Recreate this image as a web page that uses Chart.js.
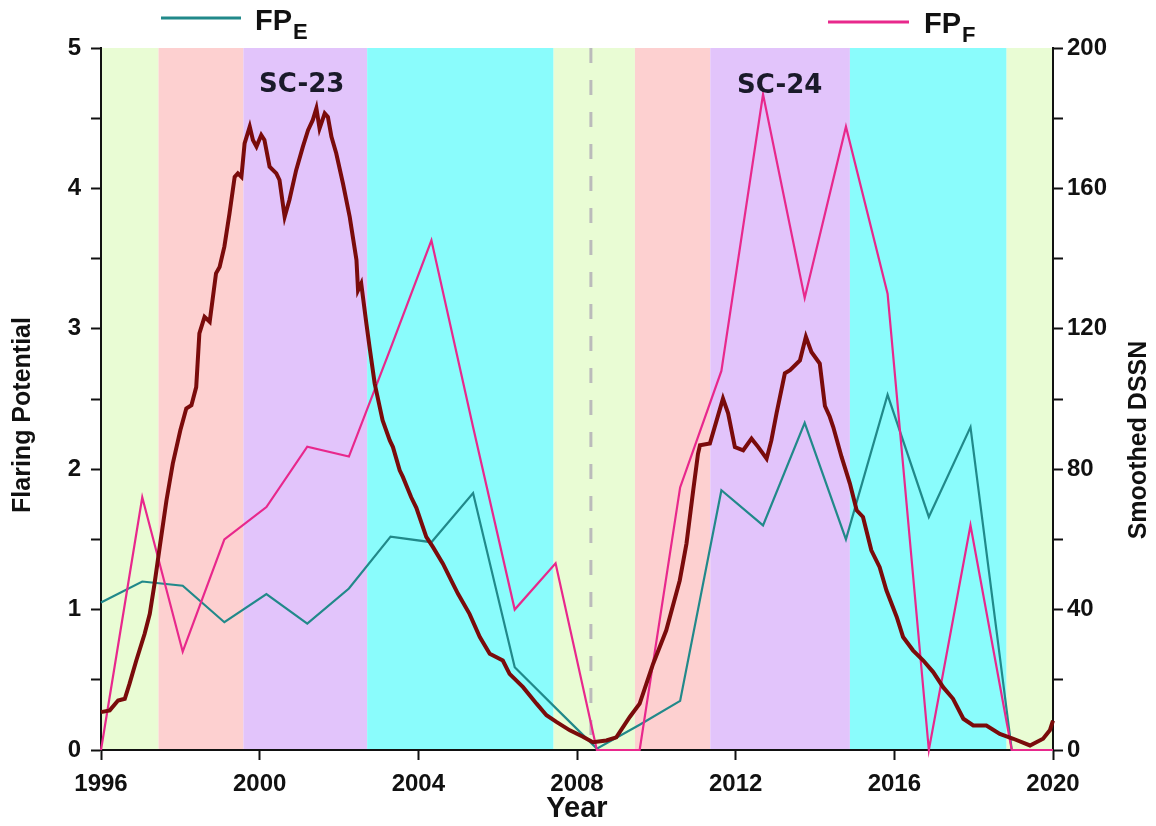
<!DOCTYPE html>
<html>
<head>
<meta charset="utf-8">
<script src="https://cdn.jsdelivr.net/npm/chart.js@4.4.1/dist/chart.umd.min.js"></script>
<style>
    html, body { margin: 0; padding: 0; background: #fff; }
    #wrap { width: 1156px; height: 826px; position: relative; }
</style>
</head>
<body>
<div id="wrap"><canvas id="flareChart"></canvas></div>
<script>
// Flaring potential samples (one per ~1.04 yr)
const fpYears = [1996, 1997.04, 1998.06, 1999.11, 2000.17, 2001.2, 2002.25, 2003.3, 2004.33, 2005.38,
    2006.43, 2007.46, 2008.5, 2009.58, 2010.6, 2011.64, 2012.69, 2013.74, 2014.78, 2015.83,
    2016.87, 2017.92, 2018.96, 2020];
const fpE = [1.05, 1.2, 1.17, 0.91, 1.11, 0.9, 1.15, 1.52, 1.48, 1.83,
    0.59, 0.3, 0.01, 0.18, 0.35, 1.85, 1.6, 2.33, 1.5, 2.53,
    1.66, 2.3, 0, 0];
const fpF = [0, 1.8, 0.7, 1.5, 1.73, 2.16, 2.09, 2.86, 3.63, 2.3,
    1.0, 1.33, 0, 0, 1.87, 2.7, 4.67, 3.22, 4.44, 3.25,
    0, 1.6, 0, 0];

// Smoothed daily sunspot number
const dssnYears = [1996.00, 1996.22, 1996.43, 1996.60, 1996.72, 1996.89, 1997.10, 1997.23, 1997.35, 1997.48,
    1997.65, 1997.81, 1998.00, 1998.15, 1998.28, 1998.40, 1998.48, 1998.61, 1998.74, 1998.90,
    1998.99, 1999.11, 1999.24, 1999.37, 1999.45, 1999.54, 1999.62, 1999.75, 1999.83, 1999.92,
    2000.04, 2000.12, 2000.25, 2000.42, 2000.50, 2000.63, 2000.75, 2000.92, 2001.09, 2001.22,
    2001.34, 2001.43, 2001.51, 2001.64, 2001.72, 2001.81, 2001.93, 2002.10, 2002.27, 2002.44,
    2002.48, 2002.56, 2002.69, 2002.77, 2002.90, 2003.10, 2003.28, 2003.36, 2003.53, 2003.61,
    2003.82, 2003.95, 2004.20, 2004.37, 2004.62, 2004.87, 2005.00, 2005.29, 2005.55, 2005.80,
    2006.13, 2006.30, 2006.64, 2006.98, 2007.23, 2007.48, 2007.82, 2008.15, 2008.40, 2008.74,
    2008.99, 2009.33, 2009.58, 2009.92, 2010.25, 2010.59, 2010.76, 2010.93, 2011.05, 2011.10,
    2011.35, 2011.52, 2011.68, 2011.81, 2011.98, 2012.19, 2012.40, 2012.57, 2012.78, 2012.90,
    2013.03, 2013.24, 2013.37, 2013.62, 2013.77, 2013.91, 2014.12, 2014.25, 2014.37, 2014.46,
    2014.67, 2014.88, 2015.05, 2015.21, 2015.42, 2015.63, 2015.80, 2016.06, 2016.22, 2016.47,
    2016.73, 2016.98, 2017.23, 2017.48, 2017.74, 2017.99, 2018.32, 2018.66, 2019.00, 2019.42,
    2019.75, 2019.92, 2020.00];
const dssnValues = [10.8, 11.3, 14.1, 14.6, 18.9, 25.5, 33.1, 38.8, 47.4, 57.8,
    71.1, 81.6, 91.1, 97.3, 98.2, 103.4, 118.7, 123.4, 122.0, 135.8,
    137.6, 143.4, 152.9, 163.3, 164.3, 163.3, 172.8, 177.6, 173.8, 171.9,
    175.2, 173.8, 166.2, 164.3, 162.4, 151.9, 156.7, 165.2, 171.9, 176.6,
    179.5, 182.8, 177.1, 181.4, 180.4, 174.7, 170.0, 161.4, 151.9, 139.6,
    131.0, 132.9, 121.5, 114.8, 104.4, 93.9, 88.2, 86.3, 79.7, 77.8,
    72.0, 69.0, 60.7, 57.8, 53.1, 47.4, 44.5, 38.8, 32.2, 27.4,
    25.5, 21.7, 17.9, 13.2, 9.9, 8.0, 5.6, 3.8, 2.2, 2.7,
    3.6, 9.4, 13.2, 24.6, 34.1, 48.3, 58.8, 74.0, 84.4, 86.8,
    87.3, 93.9, 100.1, 95.9, 86.3, 85.4, 88.7, 86.3, 83.0, 88.2,
    95.9, 107.3, 108.2, 111.0, 117.7, 113.4, 110.1, 98.0, 95.0, 92.0,
    83.5, 75.9, 68.3, 66.4, 56.9, 52.1, 45.5, 37.9, 32.2, 28.4,
    25.5, 22.2, 17.9, 14.6, 8.9, 7.0, 7.0, 4.6, 3.2, 1.3,
    3.2, 5.6, 8.4];

// Solar-cycle phase bands (rise / max / decline / min)
const phaseStarts = [1996, 1997.45, 1999.59, 2002.71, 2007.41, 2009.46, 2011.36, 2014.88, 2018.83];
const phaseEnds = [1997.45, 1999.59, 2002.71, 2007.41, 2009.46, 2011.36, 2014.88, 2018.83, 2020];
const phaseColors = ['#e9fcd4', '#fdd0d0', '#e2c4fb', '#8afcfc', '#e9fcd4', '#fdd0d0', '#e2c4fb', '#8afcfc', '#e9fcd4'];
const minimumYear = 2008.35;

const cycleNames = ['SC-23', 'SC-24'];
const cycleYears = [2001.06, 2013.11];
const cycleLevels = [4.69, 4.68];

const TEAL = '#21898a';
const PINK = '#e8288c';
const MAROON = '#7a0b0b';
const FONT = 'Liberation Sans';
const WIDE = 'DejaVu Sans';

function pairs(xs, ys) {
    return xs.map((x, i) => ({ x: x, y: ys[i] }));
}

// Background bands and the dashed minimum marker, under everything else
const phaseBands = {
    id: 'phaseBands',
    beforeDraw(chart) {
        const { ctx, chartArea: a, scales: { x } } = chart;
        ctx.save();
        phaseStarts.forEach((s, i) => {
            const x0 = x.getPixelForValue(s);
            const x1 = x.getPixelForValue(phaseEnds[i]);
            ctx.fillStyle = phaseColors[i];
            ctx.fillRect(x0, a.top, x1 - x0, a.bottom - a.top);
        });
        const xm = x.getPixelForValue(minimumYear);
        ctx.strokeStyle = '#bbbbbb';
        ctx.lineWidth = 3;
        ctx.setLineDash([15, 17]);
        ctx.beginPath();
        ctx.moveTo(xm, a.top);
        ctx.lineTo(xm, a.bottom);
        ctx.stroke();
        ctx.restore();
    },
    afterDatasetsDraw(chart) {
        const { ctx, scales: { x, y } } = chart;
        ctx.save();
        ctx.fillStyle = '#1a1a2a';
        ctx.font = 'bold 26px "' + WIDE + '"';
        ctx.textAlign = 'center';
        ctx.textBaseline = 'alphabetic';
        cycleNames.forEach((name, i) => {
            ctx.fillText(name, x.getPixelForValue(cycleYears[i]), y.getPixelForValue(cycleLevels[i]));
        });
        ctx.restore();
    }
};

// Legend with subscripts and the two vertical axis titles
const annotations = {
    id: 'annotations',
    afterDraw(chart) {
        const ctx = chart.ctx;
        ctx.save();
        ctx.lineWidth = 3;

        ctx.strokeStyle = TEAL;
        ctx.beginPath(); ctx.moveTo(161, 18); ctx.lineTo(241, 18); ctx.stroke();
        ctx.strokeStyle = PINK;
        ctx.beginPath(); ctx.moveTo(828, 22); ctx.lineTo(909, 22); ctx.stroke();

        ctx.fillStyle = '#111';
        ctx.textBaseline = 'alphabetic';
        ctx.textAlign = 'left';
        const legendItem = (x0, base, sub) => {
            ctx.font = 'bold 29px "' + FONT + '"';
            ctx.fillText('FP', x0, base);
            const w = ctx.measureText('FP').width;
            ctx.font = 'bold 22px "' + FONT + '"';
            ctx.fillText(sub, x0 + w + 1, base + 9);
        };
        legendItem(255, 30, 'E');
        legendItem(924, 33, 'F');

        ctx.textAlign = 'center';
        ctx.textBaseline = 'middle';
        ctx.font = 'bold 25px "' + FONT + '"';
        ctx.translate(23, 415);
        ctx.rotate(-Math.PI / 2);
        ctx.fillText('Flaring Potential', 0, 0);
        ctx.setTransform(1, 0, 0, 1, 0, 0);
        ctx.translate(1139, 440);
        ctx.rotate(-Math.PI / 2);
        ctx.fillText('Smoothed DSSN', 0, 0);
        ctx.restore();
    }
};

const axisLine = { color: '#111', width: 2 };
const tickFont = { family: FONT, size: 24, weight: 'bold' };

new Chart(document.getElementById('flareChart'), {
    type: 'line',
    data: {
        datasets: [
            {
                label: 'DSSN',
                data: pairs(dssnYears, dssnValues),
                yAxisID: 'y1',
                borderColor: MAROON,
                borderWidth: 4,
                pointRadius: 0,
                tension: 0,
                clip: false,
                order: 0
            },
            {
                label: 'FP_F',
                data: pairs(fpYears, fpF),
                yAxisID: 'y',
                borderColor: PINK,
                borderWidth: 2.2,
                pointRadius: 0,
                tension: 0,
                clip: false,
                order: 1
            },
            {
                label: 'FP_E',
                data: pairs(fpYears, fpE),
                yAxisID: 'y',
                borderColor: TEAL,
                borderWidth: 2.2,
                pointRadius: 0,
                tension: 0,
                clip: false,
                order: 2
            }
        ]
    },
    options: {
        responsive: true,
        maintainAspectRatio: false,
        animation: false,
        events: [],
        layout: { padding: { top: 48, left: 0, right: 0, bottom: 0 } },
        plugins: {
            legend: { display: false },
            tooltip: { enabled: false }
        },
        scales: {
            x: {
                type: 'linear',
                min: 1996,
                max: 2020,
                border: axisLine,
                grid: { drawOnChartArea: false, tickLength: 10, tickWidth: 2, tickColor: '#111' },
                ticks: {
                    stepSize: 4,
                    padding: 10,
                    color: '#111',
                    font: tickFont,
                    callback: v => String(v)
                },
                title: {
                    display: true,
                    text: 'Year',
                    color: '#111',
                    font: { family: FONT, size: 29, weight: 'bold' },
                    padding: { top: 0, bottom: 0 }
                },
                afterFit: scale => { scale.height = 76; }
            },
            y: {
                position: 'left',
                min: 0,
                max: 5,
                border: axisLine,
                grid: { drawOnChartArea: false, tickLength: 10, tickWidth: 2, tickColor: '#111' },
                ticks: {
                    stepSize: 0.5,
                    autoSkip: false,
                    padding: 10,
                    color: '#111',
                    font: tickFont,
                    callback: v => Number.isInteger(v) ? String(v) : ''
                },
                afterFit: scale => { scale.width = 101; }
            },
            y1: {
                position: 'right',
                min: 0,
                max: 200,
                border: axisLine,
                grid: { drawOnChartArea: false, tickLength: 10, tickWidth: 2, tickColor: '#111' },
                ticks: {
                    stepSize: 20,
                    autoSkip: false,
                    padding: 4,
                    color: '#111',
                    font: tickFont,
                    callback: v => v % 40 === 0 ? String(v) : ''
                },
                afterFit: scale => { scale.width = 103; }
            }
        }
    },
    plugins: [phaseBands, annotations]
});
</script>
</body>
</html>
